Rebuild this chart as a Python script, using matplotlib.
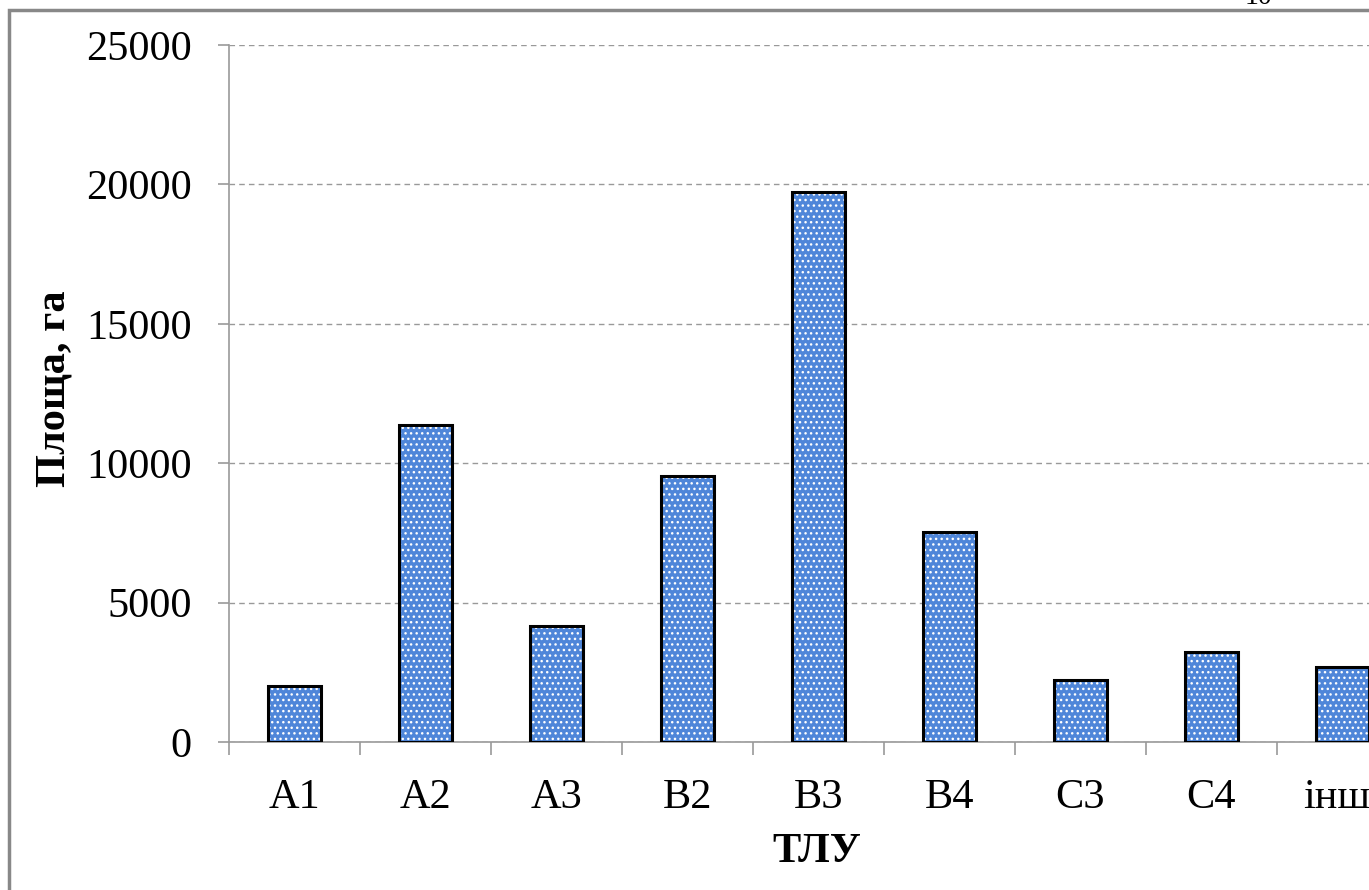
import matplotlib
matplotlib.use("Agg")
import matplotlib.pyplot as plt
from matplotlib.patches import Rectangle
import numpy as np

CATEGORIES = ["A1", "A2", "A3", "B2", "B3", "B4", "C3", "C4", "інші"]
AREA = [2010, 11370, 4160, 9540, 19720, 7530, 2220, 3230, 2690]
Y_TICKS = [0, 5000, 10000, 15000, 20000, 25000]

W, H = 1369, 890
FS = 30.5

plt.rcParams['font.family'] = ['Liberation Serif', 'DejaVu Serif']

fig = plt.figure(figsize=(W / 100, H / 100), dpi=100)
ax = fig.add_axes([229 / W, 1 - 742 / H, 1179 / W, 697 / H])

x = np.arange(len(CATEGORIES))
# dotted fill first, black outline on top
ax.bar(x, AREA, 0.41, color="#4F86D9", edgecolor="white", hatch="...",
       linewidth=0, zorder=3)
ax.bar(x, AREA, 0.41, fill=False, edgecolor="black", linewidth=2.2, zorder=4)

ax.set_xlim(-0.5, len(CATEGORIES) - 0.5)
ax.set_ylim(0, 25000)
ax.set_yticks(Y_TICKS)
ax.set_yticklabels([str(v) for v in Y_TICKS])
ax.set_xticks(x)
ax.set_xticklabels(CATEGORIES)
ax.set_xticks(np.arange(-0.5, len(CATEGORIES)), minor=True)

ax.tick_params(axis="y", which="major", direction="out", length=8, width=1.2,
               color="#999999", pad=19, labelsize=FS)
ax.tick_params(axis="x", which="major", length=0, pad=26, labelsize=FS)
ax.tick_params(axis="x", which="minor", direction="out", length=9.5, width=1.2,
               color="#999999")

ax.grid(axis="y", color="#999999", linestyle=(0, (4, 3)), linewidth=1, zorder=0)
ax.set_axisbelow(True)
for side in ["top", "right"]:
    ax.spines[side].set_visible(False)
for side in ["left", "bottom"]:
    ax.spines[side].set_color("#999999")
    ax.spines[side].set_linewidth(1.2)

fig.text(55 / W, 1 - 389 / H, "Площа, га", rotation=90, ha="center", va="center",
         fontsize=FS, fontweight="bold")
fig.text(817 / W, 1 - 852 / H, "ТЛУ", ha="center", va="center",
         fontsize=FS, fontweight="bold")

# page border and page number (cropped at the top, as in the scan)
fig.patches.append(Rectangle((9 / W, -0.1), 1.2, 1 - 10 / H + 0.1,
                             transform=fig.transFigure, fill=False,
                             edgecolor="#888888", linewidth=2.5))
fig.text(1258 / W, 1 - 4 / H, "10", ha="center", va="baseline", fontsize=20)

fig.savefig("out.png", dpi=100)
